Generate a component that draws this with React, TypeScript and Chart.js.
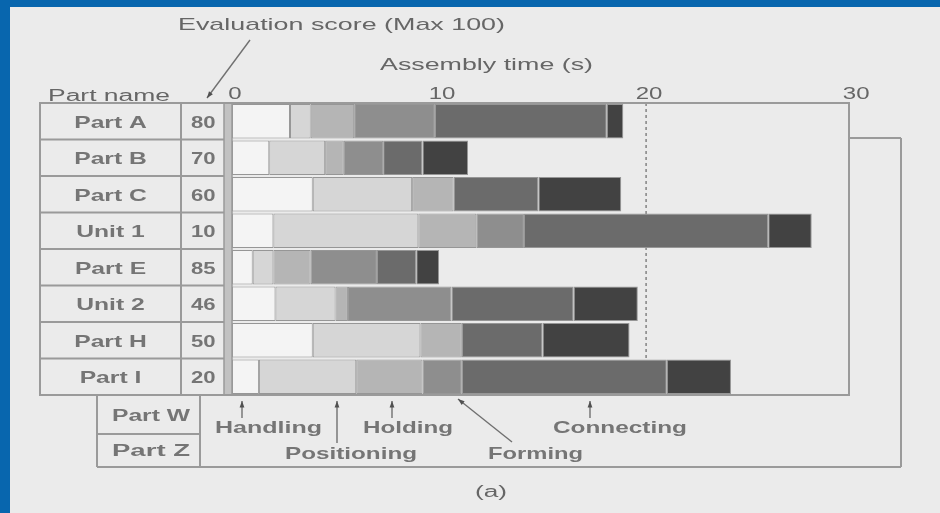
import React, { useEffect, useRef } from "react";
import { Chart, registerables } from "chart.js";

Chart.register(...registerables);

const parts = ["Part A", "Part B", "Part C", "Unit 1", "Part E", "Unit 2", "Part H", "Part I"];
const scores = ["80", "70", "60", "10", "85", "46", "50", "20"];
const handling = [2.8, 1.8, 3.9, 2.0, 1.0, 2.1, 3.9, 1.3];
const positioning = [1.0, 2.7, 4.8, 7.0, 1.0, 2.9, 5.2, 4.7];
const holding = [2.1, 0.9, 2.0, 2.8, 1.8, 0.6, 2.0, 3.2];
const forming = [3.9, 1.9, 0, 2.3, 3.2, 5.0, 0, 1.9];
const connecting = [8.3, 1.9, 4.1, 11.8, 1.9, 5.9, 3.9, 9.9];
const finishing = [0.8, 2.2, 4.0, 2.1, 1.1, 3.1, 4.2, 3.1];
const timeTicks = [0, 10, 20, 30];
const limitTime = 20;
const extraParts = ["Part W", "Part Z"];

const FONT = '"Liberation Sans", Arial, sans-serif';
const INK = "#666666";
const INK_BOLD = "#757575";
const LINE = "#9a9a9a";

function fitText(ctx: CanvasRenderingContext2D, text: string, cx: number, cy: number, width: number, size: number, weight = "normal") {
  ctx.save();
  ctx.font = `${weight} ${size}px ${FONT}`;
  const w = ctx.measureText(text).width;
  ctx.translate(cx, cy);
  ctx.scale(width / w, 1);
  ctx.textAlign = "center";
  ctx.textBaseline = "middle";
  ctx.fillStyle = weight === "bold" ? INK_BOLD : INK;
  ctx.fillText(text, 0, 0);
  ctx.restore();
}

function scaledText(ctx: CanvasRenderingContext2D, text: string, x: number, cy: number, sx: number, size: number, align: CanvasTextAlign, weight = "normal") {
  ctx.save();
  ctx.font = `${weight} ${size}px ${FONT}`;
  ctx.translate(x, cy);
  ctx.scale(sx, 1);
  ctx.textAlign = align;
  ctx.textBaseline = "middle";
  ctx.fillStyle = weight === "bold" ? INK_BOLD : INK;
  ctx.fillText(text, 0, 0);
  ctx.restore();
}

function line(ctx: CanvasRenderingContext2D, x1: number, y1: number, x2: number, y2: number, w = 2, c = LINE) {
  ctx.save();
  ctx.strokeStyle = c;
  ctx.lineWidth = w;
  ctx.beginPath();
  ctx.moveTo(x1, y1);
  ctx.lineTo(x2, y2);
  ctx.stroke();
  ctx.restore();
}

function arrow(ctx: CanvasRenderingContext2D, x1: number, y1: number, x2: number, y2: number) {
  line(ctx, x1, y1, x2, y2, 1.4, "#707070");
  const a = Math.atan2(y2 - y1, x2 - x1);
  ctx.save();
  ctx.fillStyle = "#505050";
  ctx.beginPath();
  ctx.moveTo(x2, y2);
  ctx.lineTo(x2 - 7 * Math.cos(a - 0.35), y2 - 7 * Math.sin(a - 0.35));
  ctx.lineTo(x2 - 7 * Math.cos(a + 0.35), y2 - 7 * Math.sin(a + 0.35));
  ctx.closePath();
  ctx.fill();
  ctx.restore();
}

const figurePlugin = {
  id: "figure",
  beforeDatasetsDraw(chart: any) {
    const { ctx, chartArea, scales } = chart;
    const x = scales.x.getPixelForValue(limitTime);
    ctx.save();
    ctx.strokeStyle = "#8a8a8a";
    ctx.lineWidth = 1.6;
    ctx.setLineDash([3, 3]);
    ctx.beginPath();
    ctx.moveTo(x, chartArea.top);
    ctx.lineTo(x, chartArea.bottom);
    ctx.stroke();
    ctx.restore();
  },
  afterDatasetsDraw(chart: any) {
    const { ctx, chartArea, scales } = chart;
    const ys = scales.y;
    const xs = scales.x;
    const top = chartArea.top;
    const bottom = chartArea.bottom;
    const half = (ys.getPixelForValue(1) - ys.getPixelForValue(0)) / 2;
    const tableLeft = 40;
    const colName = 181;

    // table rows
    parts.forEach((p, i) => {
      const cy = ys.getPixelForValue(i);
      scaledText(ctx, p, (tableLeft + colName) / 2, cy + 2, 1.45, 17, "center", "bold");
      scaledText(ctx, scores[i], 191, cy + 2, 1.3, 17, "left", "bold");
      if (i > 0) line(ctx, tableLeft, cy - half, chartArea.left, cy - half, 2);
    });
    // gray strip between score column and bars
    ctx.save();
    ctx.fillStyle = "#c2c2c2";
    ctx.fillRect(224, top, 8, bottom - top);
    ctx.restore();
    line(ctx, 224, top, 224, bottom, 1.5);
    line(ctx, 232, top, 232, bottom, 1.5);
    line(ctx, colName, top, colName, bottom, 2);

    // main frame
    ctx.save();
    ctx.strokeStyle = LINE;
    ctx.lineWidth = 2;
    ctx.strokeRect(tableLeft, top, chartArea.right - tableLeft, bottom - top);
    ctx.restore();

    // header texts
    fitText(ctx, "Part name", 109, 97, 122, 16);
    fitText(ctx, "Evaluation score (Max 100)", 341.5, 25, 327, 17);
    fitText(ctx, "Assembly time (s)", 486.5, 65, 213, 17);
    arrow(ctx, 250, 40, 207, 98);
    timeTicks.forEach((t) => {
      scaledText(ctx, String(t), xs.getPixelForValue(t) + 3, 95, 1.5, 16, "center");
    });

    // lower table and outer frame
    const lowTop = bottom;
    const lowBottom = 467;
    line(ctx, 97, lowTop, 97, lowBottom, 2);
    line(ctx, 200, lowTop, 200, lowBottom, 2);
    line(ctx, 97, 434, 200, 434, 2);
    line(ctx, 97, lowBottom, 901, lowBottom, 2);
    line(ctx, 901, 138, 901, lowBottom, 2);
    line(ctx, chartArea.right, 138, 901, 138, 2);
    fitText(ctx, extraParts[0], 151, 417, 78, 16, "bold");
    fitText(ctx, extraParts[1], 151, 452, 78, 16, "bold");

    // category annotations
    fitText(ctx, "Handling", 268.5, 428, 107, 17, "bold");
    fitText(ctx, "Positioning", 351, 454, 132, 17, "bold");
    fitText(ctx, "Holding", 408, 428, 90, 17, "bold");
    fitText(ctx, "Forming", 535.5, 454, 95, 17, "bold");
    fitText(ctx, "Connecting", 620, 428, 134, 17, "bold");
    fitText(ctx, "(a)", 491, 493, 32, 16);
    arrow(ctx, 242, 418, 242, 401);
    arrow(ctx, 337, 443, 337, 401);
    arrow(ctx, 392, 418, 392, 401);
    arrow(ctx, 512, 442, 458, 399);
    arrow(ctx, 590, 418, 590, 401);
  },
};

export default function App() {
  const ref = useRef<HTMLCanvasElement>(null);

  useEffect(() => {
    if (!ref.current) return;
    const mk = (label: string, data: number[], color: string) => ({
      label,
      data,
      backgroundColor: color,
      borderColor: "#969696",
      borderWidth: 1,
      borderSkipped: false,
      barPercentage: 1,
      categoryPercentage: 0.95,
    });
    const chart = new Chart(ref.current, {
      type: "bar",
      data: {
        labels: parts,
        datasets: [
          mk("Handling", handling, "#f4f4f4"),
          mk("Positioning", positioning, "#d6d6d6"),
          mk("Holding", holding, "#b5b5b5"),
          mk("Forming", forming, "#8e8e8e"),
          mk("Connecting", connecting, "#6b6b6b"),
          mk("Other", finishing, "#424242"),
        ],
      },
      options: {
        indexAxis: "y",
        animation: false,
        responsive: false,
        maintainAspectRatio: false,
        layout: { padding: { left: 232, right: 91, top: 103, bottom: 118 } },
        scales: {
          x: { type: "linear", min: 0, max: 29.8, stacked: true, display: false },
          y: { stacked: true, display: false },
        },
        plugins: { legend: { display: false }, tooltip: { enabled: false } },
      },
      plugins: [figurePlugin],
    } as any);
    return () => chart.destroy();
  }, []);

  return (
    <div style={{ position: "fixed", left: 0, top: 0, width: 940, height: 513, background: "#0866ae", overflow: "hidden" }}>
      <div style={{ position: "absolute", left: 10, top: 7, right: 0, bottom: 0, background: "#ebebeb" }} />
      <canvas
        ref={ref}
        width={940}
        height={513}
        style={{ position: "absolute", left: 0, top: 0, width: 940, height: 513, filter: "blur(0.5px)" }}
      />
    </div>
  );
}
